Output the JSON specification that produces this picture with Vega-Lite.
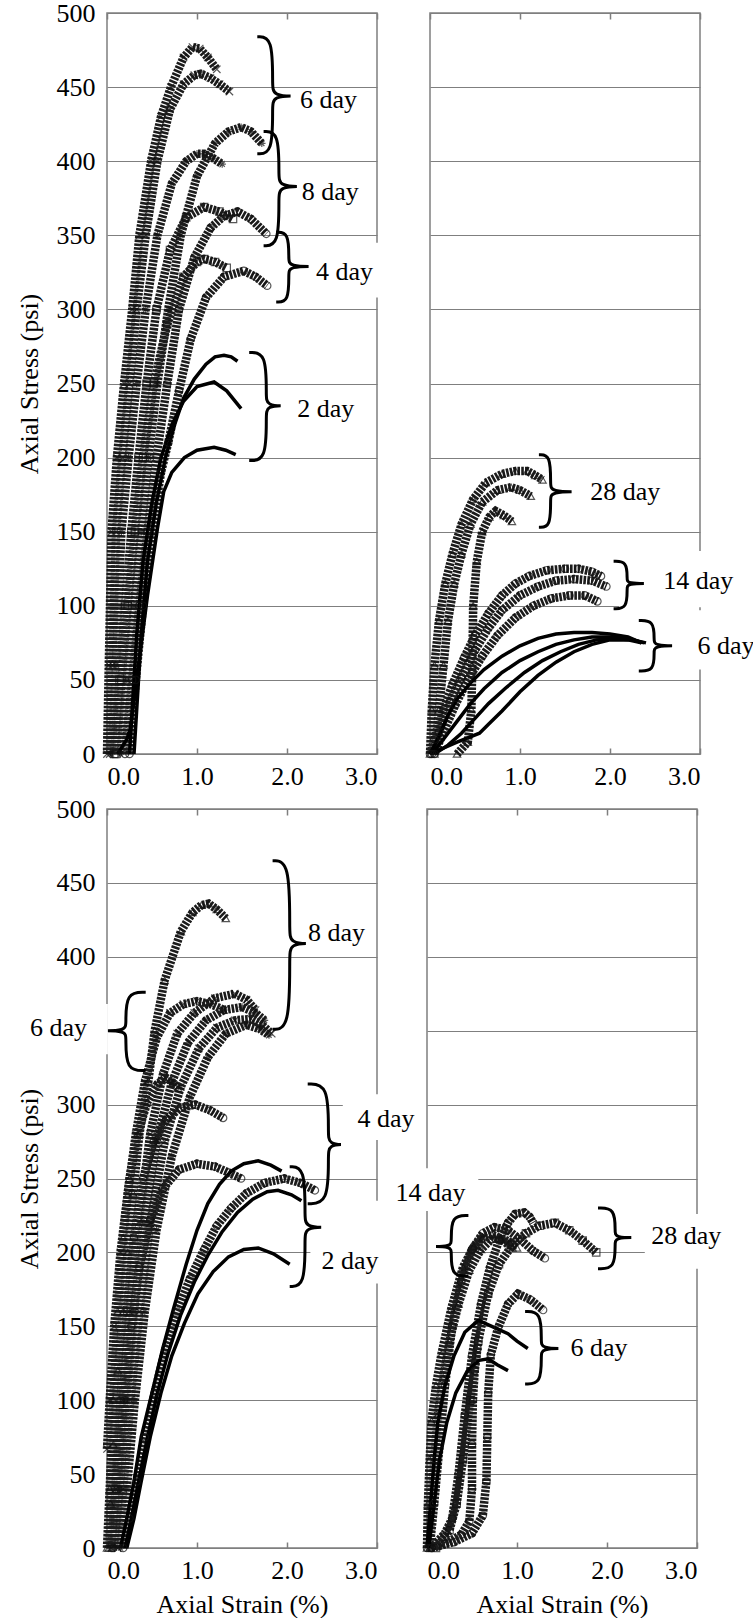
{
"$schema": "https://vega.github.io/schema/vega-lite/v6.json",
"padding": {"left": 15, "top": -1, "right": 0, "bottom": 0},
"background": "white",
"config": {
  "view": {"stroke": "#7f7f7f", "strokeWidth": 1.5},
  "font": "Liberation Serif",
  "style": {"guide-label": {"font": "Liberation Serif"}, "guide-title": {"font": "Liberation Serif"}},
  "text": {"font": "Liberation Serif"},
  "axis": {"labelFont": "Liberation Serif", "labelFontSize": 26, "labelColor": "#000", "titleFont": "Liberation Serif", "titleFontSize": 26, "titleFontWeight": "normal", "titleColor": "#000", "gridColor": "#7f7f7f", "gridWidth": 1.2, "tickColor": "#7f7f7f", "tickWidth": 1.5, "domain": false},
  "axisX": {"grid": false},
  "axisY": {"grid": true, "ticks": false}
},
"datasets": {
"boxes": [
 {"p":"TL","x":2.3,"x2":3.06,"y":308,"y2":345},
 {"p":"TR","x":2.1,"x2":3.42,"y":99,"y2":137},
 {"p":"TR","x":2.65,"x2":3.65,"y":57,"y2":97},
 {"p":"BL","x":-0.95,"x2":0.01,"y":334,"y2":368},
 {"p":"BL","x":2.62,"x2":3.45,"y":276,"y2":307},
 {"p":"BL","x":2.26,"x2":3.3,"y":179,"y2":235},
 {"p":"BR","x":-0.42,"x2":0.57,"y":228,"y2":257},
 {"p":"BR","x":2.42,"x2":3.5,"y":189,"y2":226}
],
"labels": [
 {"p":"TL","t":"6 day","x":2.46,"y":441},
 {"p":"TL","t":"8 day","x":2.48,"y":379},
 {"p":"TL","t":"4 day","x":2.64,"y":325},
 {"p":"TL","t":"2 day","x":2.43,"y":233},
 {"p":"TR","t":"28 day","x":2.17,"y":177},
 {"p":"TR","t":"14 day","x":2.98,"y":117},
 {"p":"TR","t":"6 day","x":3.29,"y":73},
 {"p":"BL","t":"8 day","x":2.55,"y":416},
 {"p":"BL","t":"6 day","x":-0.54,"y":352},
 {"p":"BL","t":"4 day","x":3.1,"y":290},
 {"p":"BL","t":"2 day","x":2.7,"y":194},
 {"p":"BR","t":"14 day","x":0.04,"y":240},
 {"p":"BR","t":"28 day","x":2.88,"y":211},
 {"p":"BR","t":"6 day","x":1.91,"y":135}
],
"braces": [
 {"p":"TL","b":"t6","x":1.67,"y":484},{"p":"TL","b":"t6","x":1.84,"y":484},{"p":"TL","b":"t6","x":1.84,"y":452},{"p":"TL","b":"t6","x":1.84,"y":444},{"p":"TL","b":"t6","x":2.14,"y":444},{"p":"TL","b":"t6","x":1.84,"y":444},{"p":"TL","b":"t6","x":1.84,"y":436},{"p":"TL","b":"t6","x":1.84,"y":405},{"p":"TL","b":"t6","x":1.67,"y":405},
 {"p":"TL","b":"t8","x":1.74,"y":420},{"p":"TL","b":"t8","x":1.91,"y":420},{"p":"TL","b":"t8","x":1.91,"y":391},{"p":"TL","b":"t8","x":1.91,"y":383},{"p":"TL","b":"t8","x":2.21,"y":383},{"p":"TL","b":"t8","x":1.91,"y":383},{"p":"TL","b":"t8","x":1.91,"y":375},{"p":"TL","b":"t8","x":1.91,"y":343},{"p":"TL","b":"t8","x":1.74,"y":343},
 {"p":"TL","b":"t4","x":1.88,"y":352},{"p":"TL","b":"t4","x":2.02,"y":352},{"p":"TL","b":"t4","x":2.02,"y":334},{"p":"TL","b":"t4","x":2.02,"y":329},{"p":"TL","b":"t4","x":2.35,"y":329},{"p":"TL","b":"t4","x":2.02,"y":329},{"p":"TL","b":"t4","x":2.02,"y":324},{"p":"TL","b":"t4","x":2.02,"y":305},{"p":"TL","b":"t4","x":1.88,"y":305},
 {"p":"TL","b":"t2","x":1.58,"y":271},{"p":"TL","b":"t2","x":1.77,"y":271},{"p":"TL","b":"t2","x":1.77,"y":242},{"p":"TL","b":"t2","x":1.77,"y":235},{"p":"TL","b":"t2","x":2.01,"y":235},{"p":"TL","b":"t2","x":1.77,"y":235},{"p":"TL","b":"t2","x":1.77,"y":228},{"p":"TL","b":"t2","x":1.77,"y":198},{"p":"TL","b":"t2","x":1.58,"y":198},
 {"p":"TR","b":"r28","x":1.21,"y":202},{"p":"TR","b":"r28","x":1.34,"y":202},{"p":"TR","b":"r28","x":1.34,"y":182},{"p":"TR","b":"r28","x":1.34,"y":177},{"p":"TR","b":"r28","x":1.69,"y":177},{"p":"TR","b":"r28","x":1.34,"y":177},{"p":"TR","b":"r28","x":1.34,"y":172},{"p":"TR","b":"r28","x":1.34,"y":153},{"p":"TR","b":"r28","x":1.21,"y":153},
 {"p":"TR","b":"r14","x":2.04,"y":130},{"p":"TR","b":"r14","x":2.19,"y":130},{"p":"TR","b":"r14","x":2.19,"y":118},{"p":"TR","b":"r14","x":2.19,"y":115},{"p":"TR","b":"r14","x":2.47,"y":115},{"p":"TR","b":"r14","x":2.19,"y":115},{"p":"TR","b":"r14","x":2.19,"y":112},{"p":"TR","b":"r14","x":2.19,"y":98},{"p":"TR","b":"r14","x":2.04,"y":98},
 {"p":"TR","b":"r6","x":2.32,"y":90},{"p":"TR","b":"r6","x":2.49,"y":90},{"p":"TR","b":"r6","x":2.49,"y":77},{"p":"TR","b":"r6","x":2.49,"y":73},{"p":"TR","b":"r6","x":2.79,"y":73},{"p":"TR","b":"r6","x":2.49,"y":73},{"p":"TR","b":"r6","x":2.49,"y":69},{"p":"TR","b":"r6","x":2.49,"y":56},{"p":"TR","b":"r6","x":2.32,"y":56},
 {"p":"BL","b":"l8","x":1.84,"y":465},{"p":"BL","b":"l8","x":2.03,"y":465},{"p":"BL","b":"l8","x":2.03,"y":418},{"p":"BL","b":"l8","x":2.03,"y":409},{"p":"BL","b":"l8","x":2.3,"y":409},{"p":"BL","b":"l8","x":2.03,"y":409},{"p":"BL","b":"l8","x":2.03,"y":400},{"p":"BL","b":"l8","x":2.03,"y":351},{"p":"BL","b":"l8","x":1.84,"y":351},
 {"p":"BL","b":"l6","x":0.43,"y":376},{"p":"BL","b":"l6","x":0.21,"y":376},{"p":"BL","b":"l6","x":0.21,"y":355},{"p":"BL","b":"l6","x":0.21,"y":350},{"p":"BL","b":"l6","x":-0.09,"y":350},{"p":"BL","b":"l6","x":0.21,"y":350},{"p":"BL","b":"l6","x":0.21,"y":345},{"p":"BL","b":"l6","x":0.21,"y":323},{"p":"BL","b":"l6","x":0.43,"y":323},
 {"p":"BL","b":"l4","x":2.23,"y":314},{"p":"BL","b":"l4","x":2.46,"y":314},{"p":"BL","b":"l4","x":2.46,"y":281},{"p":"BL","b":"l4","x":2.46,"y":273},{"p":"BL","b":"l4","x":2.67,"y":273},{"p":"BL","b":"l4","x":2.46,"y":273},{"p":"BL","b":"l4","x":2.46,"y":265},{"p":"BL","b":"l4","x":2.46,"y":233},{"p":"BL","b":"l4","x":2.23,"y":233},
 {"p":"BL","b":"l2","x":2.03,"y":258},{"p":"BL","b":"l2","x":2.2,"y":258},{"p":"BL","b":"l2","x":2.2,"y":225},{"p":"BL","b":"l2","x":2.2,"y":217},{"p":"BL","b":"l2","x":2.47,"y":217},{"p":"BL","b":"l2","x":2.2,"y":217},{"p":"BL","b":"l2","x":2.2,"y":209},{"p":"BL","b":"l2","x":2.2,"y":177},{"p":"BL","b":"l2","x":2.03,"y":177},
 {"p":"BR","b":"b14","x":0.46,"y":225},{"p":"BR","b":"b14","x":0.27,"y":225},{"p":"BR","b":"b14","x":0.27,"y":208},{"p":"BR","b":"b14","x":0.27,"y":204},{"p":"BR","b":"b14","x":0.015,"y":204},{"p":"BR","b":"b14","x":0.27,"y":204},{"p":"BR","b":"b14","x":0.27,"y":200},{"p":"BR","b":"b14","x":0.27,"y":184},{"p":"BR","b":"b14","x":0.46,"y":184},
 {"p":"BR","b":"b28","x":1.9,"y":230},{"p":"BR","b":"b28","x":2.09,"y":230},{"p":"BR","b":"b28","x":2.09,"y":214},{"p":"BR","b":"b28","x":2.09,"y":210},{"p":"BR","b":"b28","x":2.36,"y":210},{"p":"BR","b":"b28","x":2.09,"y":210},{"p":"BR","b":"b28","x":2.09,"y":206},{"p":"BR","b":"b28","x":2.09,"y":189},{"p":"BR","b":"b28","x":1.9,"y":189},
 {"p":"BR","b":"b6","x":1.09,"y":160},{"p":"BR","b":"b6","x":1.27,"y":160},{"p":"BR","b":"b6","x":1.27,"y":140},{"p":"BR","b":"b6","x":1.27,"y":135},{"p":"BR","b":"b6","x":1.555,"y":135},{"p":"BR","b":"b6","x":1.27,"y":135},{"p":"BR","b":"b6","x":1.27,"y":130},{"p":"BR","b":"b6","x":1.27,"y":111},{"p":"BR","b":"b6","x":1.09,"y":111}
],
"curves": [
 {"p":"TL","c":"a1","g":"A","x":0,"y":0},{"p":"TL","c":"a1","g":"A","x":0.02,"y":60},{"p":"TL","c":"a1","g":"A","x":0.05,"y":150},{"p":"TL","c":"a1","g":"A","x":0.11,"y":200},{"p":"TL","c":"a1","g":"A","x":0.19,"y":250},{"p":"TL","c":"a1","g":"A","x":0.28,"y":300},{"p":"TL","c":"a1","g":"A","x":0.36,"y":350},{"p":"TL","c":"a1","g":"A","x":0.49,"y":400},{"p":"TL","c":"a1","g":"A","x":0.6,"y":430},{"p":"TL","c":"a1","g":"A","x":0.71,"y":450},{"p":"TL","c":"a1","g":"A","x":0.85,"y":470},{"p":"TL","c":"a1","g":"A","x":0.95,"y":477},{"p":"TL","c":"a1","g":"A","x":1.03,"y":476},{"p":"TL","c":"a1","g":"A","x":1.12,"y":470},{"p":"TL","c":"a1","g":"A","x":1.22,"y":462},
 {"p":"TL","c":"a2","g":"A","x":0.03,"y":0},{"p":"TL","c":"a2","g":"A","x":0.06,"y":60},{"p":"TL","c":"a2","g":"A","x":0.1,"y":150},{"p":"TL","c":"a2","g":"A","x":0.17,"y":200},{"p":"TL","c":"a2","g":"A","x":0.25,"y":250},{"p":"TL","c":"a2","g":"A","x":0.33,"y":300},{"p":"TL","c":"a2","g":"A","x":0.43,"y":350},{"p":"TL","c":"a2","g":"A","x":0.56,"y":400},{"p":"TL","c":"a2","g":"A","x":0.7,"y":435},{"p":"TL","c":"a2","g":"A","x":0.85,"y":452},{"p":"TL","c":"a2","g":"A","x":0.97,"y":458},{"p":"TL","c":"a2","g":"A","x":1.04,"y":459},{"p":"TL","c":"a2","g":"A","x":1.15,"y":456},{"p":"TL","c":"a2","g":"A","x":1.25,"y":452},{"p":"TL","c":"a2","g":"A","x":1.36,"y":447},
 {"p":"TL","c":"b1","g":"B","x":0.05,"y":0},{"p":"TL","c":"b1","g":"B","x":0.1,"y":60},{"p":"TL","c":"b1","g":"B","x":0.16,"y":150},{"p":"TL","c":"b1","g":"B","x":0.24,"y":200},{"p":"TL","c":"b1","g":"B","x":0.33,"y":250},{"p":"TL","c":"b1","g":"B","x":0.43,"y":300},{"p":"TL","c":"b1","g":"B","x":0.56,"y":350},{"p":"TL","c":"b1","g":"B","x":0.72,"y":385},{"p":"TL","c":"b1","g":"B","x":0.88,"y":400},{"p":"TL","c":"b1","g":"B","x":1.0,"y":405},{"p":"TL","c":"b1","g":"B","x":1.08,"y":405},{"p":"TL","c":"b1","g":"B","x":1.18,"y":402},{"p":"TL","c":"b1","g":"B","x":1.28,"y":398},
 {"p":"TL","c":"b2","g":"B","x":0.15,"y":0},{"p":"TL","c":"b2","g":"B","x":0.22,"y":50},{"p":"TL","c":"b2","g":"B","x":0.3,"y":100},{"p":"TL","c":"b2","g":"B","x":0.38,"y":150},{"p":"TL","c":"b2","g":"B","x":0.46,"y":200},{"p":"TL","c":"b2","g":"B","x":0.56,"y":250},{"p":"TL","c":"b2","g":"B","x":0.68,"y":300},{"p":"TL","c":"b2","g":"B","x":0.82,"y":350},{"p":"TL","c":"b2","g":"B","x":1.0,"y":390},{"p":"TL","c":"b2","g":"B","x":1.2,"y":412},{"p":"TL","c":"b2","g":"B","x":1.35,"y":420},{"p":"TL","c":"b2","g":"B","x":1.49,"y":423},{"p":"TL","c":"b2","g":"B","x":1.6,"y":420},{"p":"TL","c":"b2","g":"B","x":1.72,"y":412},
 {"p":"TL","c":"c1","g":"C","x":0.08,"y":0},{"p":"TL","c":"c1","g":"C","x":0.14,"y":50},{"p":"TL","c":"c1","g":"C","x":0.2,"y":100},{"p":"TL","c":"c1","g":"C","x":0.27,"y":150},{"p":"TL","c":"c1","g":"C","x":0.35,"y":200},{"p":"TL","c":"c1","g":"C","x":0.44,"y":250},{"p":"TL","c":"c1","g":"C","x":0.55,"y":300},{"p":"TL","c":"c1","g":"C","x":0.7,"y":340},{"p":"TL","c":"c1","g":"C","x":0.88,"y":362},{"p":"TL","c":"c1","g":"C","x":1.08,"y":369},{"p":"TL","c":"c1","g":"C","x":1.25,"y":366},{"p":"TL","c":"c1","g":"C","x":1.4,"y":361},
 {"p":"TL","c":"d1","g":"D","x":0.2,"y":0},{"p":"TL","c":"d1","g":"D","x":0.28,"y":50},{"p":"TL","c":"d1","g":"D","x":0.36,"y":100},{"p":"TL","c":"d1","g":"D","x":0.45,"y":150},{"p":"TL","c":"d1","g":"D","x":0.55,"y":200},{"p":"TL","c":"d1","g":"D","x":0.67,"y":250},{"p":"TL","c":"d1","g":"D","x":0.8,"y":300},{"p":"TL","c":"d1","g":"D","x":0.97,"y":335},{"p":"TL","c":"d1","g":"D","x":1.15,"y":355},{"p":"TL","c":"d1","g":"D","x":1.3,"y":363},{"p":"TL","c":"d1","g":"D","x":1.45,"y":366},{"p":"TL","c":"d1","g":"D","x":1.6,"y":361},{"p":"TL","c":"d1","g":"D","x":1.77,"y":351},
 {"p":"TL","c":"c2","g":"C","x":0.1,"y":0},{"p":"TL","c":"c2","g":"C","x":0.16,"y":50},{"p":"TL","c":"c2","g":"C","x":0.23,"y":100},{"p":"TL","c":"c2","g":"C","x":0.31,"y":150},{"p":"TL","c":"c2","g":"C","x":0.4,"y":200},{"p":"TL","c":"c2","g":"C","x":0.52,"y":250},{"p":"TL","c":"c2","g":"C","x":0.67,"y":290},{"p":"TL","c":"c2","g":"C","x":0.85,"y":322},{"p":"TL","c":"c2","g":"C","x":1.0,"y":332},{"p":"TL","c":"c2","g":"C","x":1.08,"y":334},{"p":"TL","c":"c2","g":"C","x":1.2,"y":332},{"p":"TL","c":"c2","g":"C","x":1.33,"y":328},
 {"p":"TL","c":"d2","g":"D","x":0.25,"y":0},{"p":"TL","c":"d2","g":"D","x":0.32,"y":50},{"p":"TL","c":"d2","g":"D","x":0.4,"y":100},{"p":"TL","c":"d2","g":"D","x":0.5,"y":150},{"p":"TL","c":"d2","g":"D","x":0.6,"y":190},{"p":"TL","c":"d2","g":"D","x":0.68,"y":210},{"p":"TL","c":"d2","g":"D","x":0.8,"y":245},{"p":"TL","c":"d2","g":"D","x":0.93,"y":280},{"p":"TL","c":"d2","g":"D","x":1.1,"y":308},{"p":"TL","c":"d2","g":"D","x":1.3,"y":322},{"p":"TL","c":"d2","g":"D","x":1.52,"y":326},{"p":"TL","c":"d2","g":"D","x":1.65,"y":322},{"p":"TL","c":"d2","g":"D","x":1.78,"y":316},
 {"p":"TL","c":"f1","g":"F","x":0.3,"y":0},{"p":"TL","c":"f1","g":"F","x":0.33,"y":30},{"p":"TL","c":"f1","g":"F","x":0.38,"y":80},{"p":"TL","c":"f1","g":"F","x":0.45,"y":130},{"p":"TL","c":"f1","g":"F","x":0.55,"y":170},{"p":"TL","c":"f1","g":"F","x":0.65,"y":200},{"p":"TL","c":"f1","g":"F","x":0.75,"y":222},{"p":"TL","c":"f1","g":"F","x":0.85,"y":240},{"p":"TL","c":"f1","g":"F","x":0.97,"y":253},{"p":"TL","c":"f1","g":"F","x":1.1,"y":263},{"p":"TL","c":"f1","g":"F","x":1.2,"y":268},{"p":"TL","c":"f1","g":"F","x":1.3,"y":269},{"p":"TL","c":"f1","g":"F","x":1.38,"y":268},{"p":"TL","c":"f1","g":"F","x":1.45,"y":265},
 {"p":"TL","c":"f2","g":"F","x":0.25,"y":0},{"p":"TL","c":"f2","g":"F","x":0.28,"y":30},{"p":"TL","c":"f2","g":"F","x":0.33,"y":80},{"p":"TL","c":"f2","g":"F","x":0.4,"y":130},{"p":"TL","c":"f2","g":"F","x":0.5,"y":170},{"p":"TL","c":"f2","g":"F","x":0.6,"y":200},{"p":"TL","c":"f2","g":"F","x":0.72,"y":222},{"p":"TL","c":"f2","g":"F","x":0.85,"y":238},{"p":"TL","c":"f2","g":"F","x":1.0,"y":248},{"p":"TL","c":"f2","g":"F","x":1.19,"y":251},{"p":"TL","c":"f2","g":"F","x":1.33,"y":245},{"p":"TL","c":"f2","g":"F","x":1.49,"y":233},
 {"p":"TL","c":"f3","g":"F","x":0.12,"y":0},{"p":"TL","c":"f3","g":"F","x":0.22,"y":10},{"p":"TL","c":"f3","g":"F","x":0.26,"y":17},{"p":"TL","c":"f3","g":"F","x":0.33,"y":51},{"p":"TL","c":"f3","g":"F","x":0.45,"y":107},{"p":"TL","c":"f3","g":"F","x":0.56,"y":152},{"p":"TL","c":"f3","g":"F","x":0.63,"y":177},{"p":"TL","c":"f3","g":"F","x":0.72,"y":190},{"p":"TL","c":"f3","g":"F","x":0.86,"y":200},{"p":"TL","c":"f3","g":"F","x":1.0,"y":205},{"p":"TL","c":"f3","g":"F","x":1.19,"y":207},{"p":"TL","c":"f3","g":"F","x":1.32,"y":205},{"p":"TL","c":"f3","g":"F","x":1.43,"y":202},
 {"p":"TR","c":"e1","g":"E","x":0,"y":0},{"p":"TR","c":"e1","g":"E","x":0.02,"y":30},{"p":"TR","c":"e1","g":"E","x":0.05,"y":60},{"p":"TR","c":"e1","g":"E","x":0.1,"y":90},{"p":"TR","c":"e1","g":"E","x":0.17,"y":115},{"p":"TR","c":"e1","g":"E","x":0.25,"y":135},{"p":"TR","c":"e1","g":"E","x":0.35,"y":155},{"p":"TR","c":"e1","g":"E","x":0.48,"y":172},{"p":"TR","c":"e1","g":"E","x":0.62,"y":183},{"p":"TR","c":"e1","g":"E","x":0.8,"y":189},{"p":"TR","c":"e1","g":"E","x":0.95,"y":191},{"p":"TR","c":"e1","g":"E","x":1.08,"y":191},{"p":"TR","c":"e1","g":"E","x":1.17,"y":188},{"p":"TR","c":"e1","g":"E","x":1.25,"y":185},
 {"p":"TR","c":"e2","g":"E","x":0.05,"y":0},{"p":"TR","c":"e2","g":"E","x":0.1,"y":30},{"p":"TR","c":"e2","g":"E","x":0.15,"y":60},{"p":"TR","c":"e2","g":"E","x":0.2,"y":90},{"p":"TR","c":"e2","g":"E","x":0.27,"y":115},{"p":"TR","c":"e2","g":"E","x":0.35,"y":135},{"p":"TR","c":"e2","g":"E","x":0.45,"y":155},{"p":"TR","c":"e2","g":"E","x":0.58,"y":170},{"p":"TR","c":"e2","g":"E","x":0.75,"y":178},{"p":"TR","c":"e2","g":"E","x":0.9,"y":180},{"p":"TR","c":"e2","g":"E","x":1.0,"y":178},{"p":"TR","c":"e2","g":"E","x":1.12,"y":174},
 {"p":"TR","c":"e3","g":"E","x":0.3,"y":0},{"p":"TR","c":"e3","g":"E","x":0.42,"y":8},{"p":"TR","c":"e3","g":"E","x":0.46,"y":30},{"p":"TR","c":"e3","g":"E","x":0.47,"y":60},{"p":"TR","c":"e3","g":"E","x":0.48,"y":100},{"p":"TR","c":"e3","g":"E","x":0.52,"y":130},{"p":"TR","c":"e3","g":"E","x":0.58,"y":150},{"p":"TR","c":"e3","g":"E","x":0.66,"y":160},{"p":"TR","c":"e3","g":"E","x":0.73,"y":164},{"p":"TR","c":"e3","g":"E","x":0.82,"y":161},{"p":"TR","c":"e3","g":"E","x":0.91,"y":157},
 {"p":"TR","c":"d3","g":"D","x":0,"y":0},{"p":"TR","c":"d3","g":"D","x":0.05,"y":10},{"p":"TR","c":"d3","g":"D","x":0.15,"y":30},{"p":"TR","c":"d3","g":"D","x":0.25,"y":47},{"p":"TR","c":"d3","g":"D","x":0.38,"y":65},{"p":"TR","c":"d3","g":"D","x":0.5,"y":80},{"p":"TR","c":"d3","g":"D","x":0.65,"y":95},{"p":"TR","c":"d3","g":"D","x":0.8,"y":107},{"p":"TR","c":"d3","g":"D","x":0.95,"y":115},{"p":"TR","c":"d3","g":"D","x":1.1,"y":120},{"p":"TR","c":"d3","g":"D","x":1.3,"y":124},{"p":"TR","c":"d3","g":"D","x":1.5,"y":125},{"p":"TR","c":"d3","g":"D","x":1.65,"y":125},{"p":"TR","c":"d3","g":"D","x":1.8,"y":123},{"p":"TR","c":"d3","g":"D","x":1.9,"y":120},
 {"p":"TR","c":"d4","g":"D","x":0.02,"y":0},{"p":"TR","c":"d4","g":"D","x":0.1,"y":15},{"p":"TR","c":"d4","g":"D","x":0.22,"y":35},{"p":"TR","c":"d4","g":"D","x":0.35,"y":52},{"p":"TR","c":"d4","g":"D","x":0.5,"y":70},{"p":"TR","c":"d4","g":"D","x":0.65,"y":85},{"p":"TR","c":"d4","g":"D","x":0.8,"y":97},{"p":"TR","c":"d4","g":"D","x":1.0,"y":107},{"p":"TR","c":"d4","g":"D","x":1.2,"y":113},{"p":"TR","c":"d4","g":"D","x":1.4,"y":117},{"p":"TR","c":"d4","g":"D","x":1.6,"y":118},{"p":"TR","c":"d4","g":"D","x":1.8,"y":117},{"p":"TR","c":"d4","g":"D","x":1.96,"y":113},
 {"p":"TR","c":"d5","g":"D","x":0.05,"y":0},{"p":"TR","c":"d5","g":"D","x":0.15,"y":15},{"p":"TR","c":"d5","g":"D","x":0.28,"y":33},{"p":"TR","c":"d5","g":"D","x":0.42,"y":50},{"p":"TR","c":"d5","g":"D","x":0.58,"y":66},{"p":"TR","c":"d5","g":"D","x":0.75,"y":80},{"p":"TR","c":"d5","g":"D","x":0.95,"y":92},{"p":"TR","c":"d5","g":"D","x":1.15,"y":100},{"p":"TR","c":"d5","g":"D","x":1.35,"y":105},{"p":"TR","c":"d5","g":"D","x":1.55,"y":107},{"p":"TR","c":"d5","g":"D","x":1.72,"y":107},{"p":"TR","c":"d5","g":"D","x":1.86,"y":103},
 {"p":"TR","c":"f4","g":"F","x":0,"y":0},{"p":"TR","c":"f4","g":"F","x":0.1,"y":12},{"p":"TR","c":"f4","g":"F","x":0.2,"y":26},{"p":"TR","c":"f4","g":"F","x":0.3,"y":37},{"p":"TR","c":"f4","g":"F","x":0.45,"y":48},{"p":"TR","c":"f4","g":"F","x":0.6,"y":57},{"p":"TR","c":"f4","g":"F","x":0.8,"y":66},{"p":"TR","c":"f4","g":"F","x":1.0,"y":73},{"p":"TR","c":"f4","g":"F","x":1.2,"y":78},{"p":"TR","c":"f4","g":"F","x":1.4,"y":81},{"p":"TR","c":"f4","g":"F","x":1.6,"y":82},{"p":"TR","c":"f4","g":"F","x":1.8,"y":82},{"p":"TR","c":"f4","g":"F","x":2.0,"y":81},{"p":"TR","c":"f4","g":"F","x":2.2,"y":79},{"p":"TR","c":"f4","g":"F","x":2.35,"y":75},
 {"p":"TR","c":"f5","g":"F","x":0.02,"y":0},{"p":"TR","c":"f5","g":"F","x":0.15,"y":10},{"p":"TR","c":"f5","g":"F","x":0.3,"y":22},{"p":"TR","c":"f5","g":"F","x":0.45,"y":34},{"p":"TR","c":"f5","g":"F","x":0.6,"y":44},{"p":"TR","c":"f5","g":"F","x":0.8,"y":55},{"p":"TR","c":"f5","g":"F","x":1.0,"y":63},{"p":"TR","c":"f5","g":"F","x":1.2,"y":69},{"p":"TR","c":"f5","g":"F","x":1.4,"y":74},{"p":"TR","c":"f5","g":"F","x":1.6,"y":77},{"p":"TR","c":"f5","g":"F","x":1.8,"y":79},{"p":"TR","c":"f5","g":"F","x":2.0,"y":79},{"p":"TR","c":"f5","g":"F","x":2.2,"y":78},{"p":"TR","c":"f5","g":"F","x":2.38,"y":75},
 {"p":"TR","c":"f6","g":"F","x":0.05,"y":0},{"p":"TR","c":"f6","g":"F","x":0.2,"y":6},{"p":"TR","c":"f6","g":"F","x":0.35,"y":14},{"p":"TR","c":"f6","g":"F","x":0.5,"y":24},{"p":"TR","c":"f6","g":"F","x":0.65,"y":34},{"p":"TR","c":"f6","g":"F","x":0.85,"y":45},{"p":"TR","c":"f6","g":"F","x":1.05,"y":55},{"p":"TR","c":"f6","g":"F","x":1.25,"y":63},{"p":"TR","c":"f6","g":"F","x":1.45,"y":69},{"p":"TR","c":"f6","g":"F","x":1.65,"y":74},{"p":"TR","c":"f6","g":"F","x":1.85,"y":77},{"p":"TR","c":"f6","g":"F","x":2.05,"y":78},{"p":"TR","c":"f6","g":"F","x":2.25,"y":77},{"p":"TR","c":"f6","g":"F","x":2.4,"y":75},
 {"p":"TR","c":"f7","g":"F","x":0,"y":0},{"p":"TR","c":"f7","g":"F","x":0.3,"y":8},{"p":"TR","c":"f7","g":"F","x":0.55,"y":14},{"p":"TR","c":"f7","g":"F","x":0.65,"y":20},{"p":"TR","c":"f7","g":"F","x":0.8,"y":29},{"p":"TR","c":"f7","g":"F","x":1.0,"y":42},{"p":"TR","c":"f7","g":"F","x":1.2,"y":53},{"p":"TR","c":"f7","g":"F","x":1.4,"y":62},{"p":"TR","c":"f7","g":"F","x":1.6,"y":69},{"p":"TR","c":"f7","g":"F","x":1.8,"y":74},{"p":"TR","c":"f7","g":"F","x":2.0,"y":77},{"p":"TR","c":"f7","g":"F","x":2.2,"y":77},{"p":"TR","c":"f7","g":"F","x":2.35,"y":75},
 {"p":"BL","c":"h1","g":"E","x":0.02,"y":0},{"p":"BL","c":"h1","g":"E","x":0.04,"y":30},{"p":"BL","c":"h1","g":"E","x":0.07,"y":70},{"p":"BL","c":"h1","g":"E","x":0.12,"y":120},{"p":"BL","c":"h1","g":"E","x":0.18,"y":160},{"p":"BL","c":"h1","g":"E","x":0.23,"y":200},{"p":"BL","c":"h1","g":"E","x":0.29,"y":240},{"p":"BL","c":"h1","g":"E","x":0.36,"y":280},{"p":"BL","c":"h1","g":"E","x":0.46,"y":316},{"p":"BL","c":"h1","g":"E","x":0.53,"y":350},{"p":"BL","c":"h1","g":"E","x":0.64,"y":384},{"p":"BL","c":"h1","g":"E","x":0.82,"y":417},{"p":"BL","c":"h1","g":"E","x":0.95,"y":430},{"p":"BL","c":"h1","g":"E","x":1.05,"y":435},{"p":"BL","c":"h1","g":"E","x":1.13,"y":436},{"p":"BL","c":"h1","g":"E","x":1.22,"y":432},{"p":"BL","c":"h1","g":"E","x":1.32,"y":426},
 {"p":"BL","c":"k0","g":"A","x":0,"y":67},{"p":"BL","c":"k0","g":"A","x":0.03,"y":100},{"p":"BL","c":"k0","g":"A","x":0.08,"y":150},{"p":"BL","c":"k0","g":"A","x":0.15,"y":200},{"p":"BL","c":"k0","g":"A","x":0.23,"y":240},{"p":"BL","c":"k0","g":"A","x":0.32,"y":280},{"p":"BL","c":"k0","g":"A","x":0.42,"y":315},{"p":"BL","c":"k0","g":"A","x":0.55,"y":345},{"p":"BL","c":"k0","g":"A","x":0.7,"y":362},{"p":"BL","c":"k0","g":"A","x":0.85,"y":368},{"p":"BL","c":"k0","g":"A","x":1.0,"y":370},{"p":"BL","c":"k0","g":"A","x":1.15,"y":368},{"p":"BL","c":"k0","g":"A","x":1.3,"y":364},
 {"p":"BL","c":"k1","g":"A","x":0.05,"y":0},{"p":"BL","c":"k1","g":"A","x":0.1,"y":40},{"p":"BL","c":"k1","g":"A","x":0.17,"y":100},{"p":"BL","c":"k1","g":"A","x":0.25,"y":160},{"p":"BL","c":"k1","g":"A","x":0.35,"y":220},{"p":"BL","c":"k1","g":"A","x":0.48,"y":280},{"p":"BL","c":"k1","g":"A","x":0.62,"y":320},{"p":"BL","c":"k1","g":"A","x":0.78,"y":348},{"p":"BL","c":"k1","g":"A","x":0.97,"y":362},{"p":"BL","c":"k1","g":"A","x":1.2,"y":372},{"p":"BL","c":"k1","g":"A","x":1.42,"y":375},{"p":"BL","c":"k1","g":"A","x":1.55,"y":371},{"p":"BL","c":"k1","g":"A","x":1.65,"y":364},
 {"p":"BL","c":"k2","g":"B","x":0.08,"y":0},{"p":"BL","c":"k2","g":"B","x":0.14,"y":40},{"p":"BL","c":"k2","g":"B","x":0.21,"y":100},{"p":"BL","c":"k2","g":"B","x":0.3,"y":160},{"p":"BL","c":"k2","g":"B","x":0.41,"y":220},{"p":"BL","c":"k2","g":"B","x":0.55,"y":275},{"p":"BL","c":"k2","g":"B","x":0.72,"y":315},{"p":"BL","c":"k2","g":"B","x":0.9,"y":342},{"p":"BL","c":"k2","g":"B","x":1.1,"y":357},{"p":"BL","c":"k2","g":"B","x":1.3,"y":364},{"p":"BL","c":"k2","g":"B","x":1.5,"y":366},{"p":"BL","c":"k2","g":"B","x":1.65,"y":362},{"p":"BL","c":"k2","g":"B","x":1.75,"y":357},
 {"p":"BL","c":"k3","g":"A","x":0.12,"y":0},{"p":"BL","c":"k3","g":"A","x":0.18,"y":40},{"p":"BL","c":"k3","g":"A","x":0.26,"y":100},{"p":"BL","c":"k3","g":"A","x":0.36,"y":160},{"p":"BL","c":"k3","g":"A","x":0.48,"y":220},{"p":"BL","c":"k3","g":"A","x":0.64,"y":275},{"p":"BL","c":"k3","g":"A","x":0.82,"y":312},{"p":"BL","c":"k3","g":"A","x":1.02,"y":338},{"p":"BL","c":"k3","g":"A","x":1.22,"y":352},{"p":"BL","c":"k3","g":"A","x":1.42,"y":357},{"p":"BL","c":"k3","g":"A","x":1.6,"y":358},{"p":"BL","c":"k3","g":"A","x":1.72,"y":354},{"p":"BL","c":"k3","g":"A","x":1.83,"y":348},
 {"p":"BL","c":"k4","g":"B","x":0.15,"y":0},{"p":"BL","c":"k4","g":"B","x":0.22,"y":40},{"p":"BL","c":"k4","g":"B","x":0.31,"y":100},{"p":"BL","c":"k4","g":"B","x":0.42,"y":160},{"p":"BL","c":"k4","g":"B","x":0.55,"y":215},{"p":"BL","c":"k4","g":"B","x":0.72,"y":265},{"p":"BL","c":"k4","g":"B","x":0.92,"y":305},{"p":"BL","c":"k4","g":"B","x":1.12,"y":332},{"p":"BL","c":"k4","g":"B","x":1.32,"y":348},{"p":"BL","c":"k4","g":"B","x":1.55,"y":354},{"p":"BL","c":"k4","g":"B","x":1.7,"y":351},{"p":"BL","c":"k4","g":"B","x":1.8,"y":347},
 {"p":"BL","c":"l1","g":"E","x":0,"y":0},{"p":"BL","c":"l1","g":"E","x":0.03,"y":40},{"p":"BL","c":"l1","g":"E","x":0.07,"y":100},{"p":"BL","c":"l1","g":"E","x":0.12,"y":160},{"p":"BL","c":"l1","g":"E","x":0.18,"y":210},{"p":"BL","c":"l1","g":"E","x":0.25,"y":250},{"p":"BL","c":"l1","g":"E","x":0.34,"y":280},{"p":"BL","c":"l1","g":"E","x":0.45,"y":302},{"p":"BL","c":"l1","g":"E","x":0.56,"y":314},{"p":"BL","c":"l1","g":"E","x":0.66,"y":318},{"p":"BL","c":"l1","g":"E","x":0.73,"y":315},{"p":"BL","c":"l1","g":"E","x":0.79,"y":311},
 {"p":"BL","c":"l2","g":"D","x":0.05,"y":0},{"p":"BL","c":"l2","g":"D","x":0.09,"y":40},{"p":"BL","c":"l2","g":"D","x":0.15,"y":100},{"p":"BL","c":"l2","g":"D","x":0.22,"y":160},{"p":"BL","c":"l2","g":"D","x":0.3,"y":210},{"p":"BL","c":"l2","g":"D","x":0.4,"y":250},{"p":"BL","c":"l2","g":"D","x":0.52,"y":275},{"p":"BL","c":"l2","g":"D","x":0.66,"y":290},{"p":"BL","c":"l2","g":"D","x":0.82,"y":298},{"p":"BL","c":"l2","g":"D","x":0.98,"y":300},{"p":"BL","c":"l2","g":"D","x":1.15,"y":296},{"p":"BL","c":"l2","g":"D","x":1.29,"y":291},
 {"p":"BL","c":"l3","g":"D","x":0.07,"y":0},{"p":"BL","c":"l3","g":"D","x":0.12,"y":40},{"p":"BL","c":"l3","g":"D","x":0.19,"y":100},{"p":"BL","c":"l3","g":"D","x":0.27,"y":150},{"p":"BL","c":"l3","g":"D","x":0.36,"y":190},{"p":"BL","c":"l3","g":"D","x":0.48,"y":222},{"p":"BL","c":"l3","g":"D","x":0.62,"y":243},{"p":"BL","c":"l3","g":"D","x":0.8,"y":256},{"p":"BL","c":"l3","g":"D","x":1.0,"y":260},{"p":"BL","c":"l3","g":"D","x":1.2,"y":258},{"p":"BL","c":"l3","g":"D","x":1.35,"y":254},{"p":"BL","c":"l3","g":"D","x":1.49,"y":250},
 {"p":"BL","c":"m1","g":"F","x":0.15,"y":0},{"p":"BL","c":"m1","g":"F","x":0.22,"y":20},{"p":"BL","c":"m1","g":"F","x":0.3,"y":45},{"p":"BL","c":"m1","g":"F","x":0.38,"y":75},{"p":"BL","c":"m1","g":"F","x":0.5,"y":105},{"p":"BL","c":"m1","g":"F","x":0.62,"y":135},{"p":"BL","c":"m1","g":"F","x":0.74,"y":162},{"p":"BL","c":"m1","g":"F","x":0.88,"y":192},{"p":"BL","c":"m1","g":"F","x":1.0,"y":215},{"p":"BL","c":"m1","g":"F","x":1.12,"y":233},{"p":"BL","c":"m1","g":"F","x":1.25,"y":246},{"p":"BL","c":"m1","g":"F","x":1.38,"y":255},{"p":"BL","c":"m1","g":"F","x":1.52,"y":260},{"p":"BL","c":"m1","g":"F","x":1.68,"y":262},{"p":"BL","c":"m1","g":"F","x":1.82,"y":259},{"p":"BL","c":"m1","g":"F","x":1.94,"y":255},
 {"p":"BL","c":"n1","g":"D","x":0.18,"y":0},{"p":"BL","c":"n1","g":"D","x":0.25,"y":20},{"p":"BL","c":"n1","g":"D","x":0.33,"y":45},{"p":"BL","c":"n1","g":"D","x":0.42,"y":75},{"p":"BL","c":"n1","g":"D","x":0.53,"y":105},{"p":"BL","c":"n1","g":"D","x":0.65,"y":135},{"p":"BL","c":"n1","g":"D","x":0.78,"y":160},{"p":"BL","c":"n1","g":"D","x":0.92,"y":182},{"p":"BL","c":"n1","g":"D","x":1.08,"y":202},{"p":"BL","c":"n1","g":"D","x":1.22,"y":218},{"p":"BL","c":"n1","g":"D","x":1.38,"y":230},{"p":"BL","c":"n1","g":"D","x":1.55,"y":240},{"p":"BL","c":"n1","g":"D","x":1.75,"y":247},{"p":"BL","c":"n1","g":"D","x":1.97,"y":250},{"p":"BL","c":"n1","g":"D","x":2.15,"y":247},{"p":"BL","c":"n1","g":"D","x":2.31,"y":242},
 {"p":"BL","c":"m2","g":"F","x":0.2,"y":0},{"p":"BL","c":"m2","g":"F","x":0.27,"y":20},{"p":"BL","c":"m2","g":"F","x":0.35,"y":45},{"p":"BL","c":"m2","g":"F","x":0.45,"y":75},{"p":"BL","c":"m2","g":"F","x":0.56,"y":105},{"p":"BL","c":"m2","g":"F","x":0.68,"y":132},{"p":"BL","c":"m2","g":"F","x":0.82,"y":158},{"p":"BL","c":"m2","g":"F","x":0.97,"y":180},{"p":"BL","c":"m2","g":"F","x":1.12,"y":198},{"p":"BL","c":"m2","g":"F","x":1.28,"y":214},{"p":"BL","c":"m2","g":"F","x":1.45,"y":227},{"p":"BL","c":"m2","g":"F","x":1.62,"y":236},{"p":"BL","c":"m2","g":"F","x":1.78,"y":241},{"p":"BL","c":"m2","g":"F","x":1.9,"y":242},{"p":"BL","c":"m2","g":"F","x":2.05,"y":239},{"p":"BL","c":"m2","g":"F","x":2.16,"y":235},
 {"p":"BL","c":"m3","g":"F","x":0.22,"y":0},{"p":"BL","c":"m3","g":"F","x":0.3,"y":20},{"p":"BL","c":"m3","g":"F","x":0.38,"y":45},{"p":"BL","c":"m3","g":"F","x":0.48,"y":75},{"p":"BL","c":"m3","g":"F","x":0.6,"y":105},{"p":"BL","c":"m3","g":"F","x":0.72,"y":130},{"p":"BL","c":"m3","g":"F","x":0.86,"y":152},{"p":"BL","c":"m3","g":"F","x":1.01,"y":172},{"p":"BL","c":"m3","g":"F","x":1.18,"y":187},{"p":"BL","c":"m3","g":"F","x":1.35,"y":197},{"p":"BL","c":"m3","g":"F","x":1.52,"y":202},{"p":"BL","c":"m3","g":"F","x":1.68,"y":203},{"p":"BL","c":"m3","g":"F","x":1.85,"y":199},{"p":"BL","c":"m3","g":"F","x":2.03,"y":192},
 {"p":"BR","c":"s1","g":"E","x":0,"y":0},{"p":"BR","c":"s1","g":"E","x":0.01,"y":30},{"p":"BR","c":"s1","g":"E","x":0.03,"y":60},{"p":"BR","c":"s1","g":"E","x":0.05,"y":86},{"p":"BR","c":"s1","g":"E","x":0.1,"y":110},{"p":"BR","c":"s1","g":"E","x":0.16,"y":131},{"p":"BR","c":"s1","g":"E","x":0.27,"y":162},{"p":"BR","c":"s1","g":"E","x":0.4,"y":190},{"p":"BR","c":"s1","g":"E","x":0.52,"y":204},{"p":"BR","c":"s1","g":"E","x":0.62,"y":210},{"p":"BR","c":"s1","g":"E","x":0.72,"y":212},{"p":"BR","c":"s1","g":"E","x":0.82,"y":209},{"p":"BR","c":"s1","g":"E","x":0.95,"y":203},
 {"p":"BR","c":"s2","g":"E","x":0.03,"y":0},{"p":"BR","c":"s2","g":"E","x":0.05,"y":30},{"p":"BR","c":"s2","g":"E","x":0.08,"y":60},{"p":"BR","c":"s2","g":"E","x":0.12,"y":90},{"p":"BR","c":"s2","g":"E","x":0.18,"y":115},{"p":"BR","c":"s2","g":"E","x":0.25,"y":140},{"p":"BR","c":"s2","g":"E","x":0.35,"y":165},{"p":"BR","c":"s2","g":"E","x":0.47,"y":188},{"p":"BR","c":"s2","g":"E","x":0.6,"y":202},{"p":"BR","c":"s2","g":"E","x":0.72,"y":209},{"p":"BR","c":"s2","g":"E","x":0.82,"y":210},{"p":"BR","c":"s2","g":"E","x":0.92,"y":207},{"p":"BR","c":"s2","g":"E","x":1.0,"y":203},
 {"p":"BR","c":"p3","g":"D","x":0.03,"y":0},{"p":"BR","c":"p3","g":"D","x":0.08,"y":30},{"p":"BR","c":"p3","g":"D","x":0.14,"y":70},{"p":"BR","c":"p3","g":"D","x":0.2,"y":110},{"p":"BR","c":"p3","g":"D","x":0.28,"y":150},{"p":"BR","c":"p3","g":"D","x":0.38,"y":180},{"p":"BR","c":"p3","g":"D","x":0.5,"y":202},{"p":"BR","c":"p3","g":"D","x":0.62,"y":213},{"p":"BR","c":"p3","g":"D","x":0.75,"y":217},{"p":"BR","c":"p3","g":"D","x":0.9,"y":215},{"p":"BR","c":"p3","g":"D","x":1.05,"y":208},{"p":"BR","c":"p3","g":"D","x":1.18,"y":201},{"p":"BR","c":"p3","g":"D","x":1.31,"y":196},
 {"p":"BR","c":"p1","g":"D","x":0.05,"y":0},{"p":"BR","c":"p1","g":"D","x":0.2,"y":10},{"p":"BR","c":"p1","g":"D","x":0.28,"y":20},{"p":"BR","c":"p1","g":"D","x":0.35,"y":50},{"p":"BR","c":"p1","g":"D","x":0.42,"y":90},{"p":"BR","c":"p1","g":"D","x":0.5,"y":130},{"p":"BR","c":"p1","g":"D","x":0.6,"y":165},{"p":"BR","c":"p1","g":"D","x":0.7,"y":190},{"p":"BR","c":"p1","g":"D","x":0.8,"y":208},{"p":"BR","c":"p1","g":"D","x":0.9,"y":220},{"p":"BR","c":"p1","g":"D","x":0.98,"y":226},{"p":"BR","c":"p1","g":"D","x":1.08,"y":227},{"p":"BR","c":"p1","g":"D","x":1.14,"y":224},{"p":"BR","c":"p1","g":"D","x":1.18,"y":220},
 {"p":"BR","c":"p2","g":"C","x":0.1,"y":0},{"p":"BR","c":"p2","g":"C","x":0.25,"y":12},{"p":"BR","c":"p2","g":"C","x":0.33,"y":30},{"p":"BR","c":"p2","g":"C","x":0.4,"y":60},{"p":"BR","c":"p2","g":"C","x":0.48,"y":100},{"p":"BR","c":"p2","g":"C","x":0.57,"y":140},{"p":"BR","c":"p2","g":"C","x":0.68,"y":172},{"p":"BR","c":"p2","g":"C","x":0.8,"y":192},{"p":"BR","c":"p2","g":"C","x":0.95,"y":205},{"p":"BR","c":"p2","g":"C","x":1.1,"y":213},{"p":"BR","c":"p2","g":"C","x":1.25,"y":218},{"p":"BR","c":"p2","g":"C","x":1.42,"y":220},{"p":"BR","c":"p2","g":"C","x":1.58,"y":215},{"p":"BR","c":"p2","g":"C","x":1.73,"y":208},{"p":"BR","c":"p2","g":"C","x":1.88,"y":200},
 {"p":"BR","c":"q1","g":"D","x":0.05,"y":0},{"p":"BR","c":"q1","g":"D","x":0.3,"y":4},{"p":"BR","c":"q1","g":"D","x":0.5,"y":10},{"p":"BR","c":"q1","g":"D","x":0.62,"y":22},{"p":"BR","c":"q1","g":"D","x":0.66,"y":45},{"p":"BR","c":"q1","g":"D","x":0.67,"y":75},{"p":"BR","c":"q1","g":"D","x":0.68,"y":105},{"p":"BR","c":"q1","g":"D","x":0.71,"y":131},{"p":"BR","c":"q1","g":"D","x":0.79,"y":149},{"p":"BR","c":"q1","g":"D","x":0.9,"y":165},{"p":"BR","c":"q1","g":"D","x":1.01,"y":172},{"p":"BR","c":"q1","g":"D","x":1.15,"y":168},{"p":"BR","c":"q1","g":"D","x":1.29,"y":161},
 {"p":"BR","c":"r1","g":"D","x":0,"y":0},{"p":"BR","c":"r1","g":"D","x":0.2,"y":3},{"p":"BR","c":"r1","g":"D","x":0.38,"y":9},{"p":"BR","c":"r1","g":"D","x":0.47,"y":18},{"p":"BR","c":"r1","g":"D","x":0.5,"y":40},{"p":"BR","c":"r1","g":"D","x":0.5,"y":70},{"p":"BR","c":"r1","g":"D","x":0.51,"y":100},{"p":"BR","c":"r1","g":"D","x":0.53,"y":120},{"p":"BR","c":"r1","g":"D","x":0.56,"y":135},
 {"p":"BR","c":"q2","g":"F","x":0,"y":0},{"p":"BR","c":"q2","g":"F","x":0.04,"y":30},{"p":"BR","c":"q2","g":"F","x":0.08,"y":60},{"p":"BR","c":"q2","g":"F","x":0.12,"y":85},{"p":"BR","c":"q2","g":"F","x":0.2,"y":110},{"p":"BR","c":"q2","g":"F","x":0.3,"y":130},{"p":"BR","c":"q2","g":"F","x":0.42,"y":146},{"p":"BR","c":"q2","g":"F","x":0.57,"y":154},{"p":"BR","c":"q2","g":"F","x":0.72,"y":150},{"p":"BR","c":"q2","g":"F","x":0.9,"y":145},{"p":"BR","c":"q2","g":"F","x":1.0,"y":140},{"p":"BR","c":"q2","g":"F","x":1.12,"y":135},
 {"p":"BR","c":"q3","g":"F","x":0.02,"y":0},{"p":"BR","c":"q3","g":"F","x":0.08,"y":30},{"p":"BR","c":"q3","g":"F","x":0.14,"y":60},{"p":"BR","c":"q3","g":"F","x":0.22,"y":85},{"p":"BR","c":"q3","g":"F","x":0.32,"y":105},{"p":"BR","c":"q3","g":"F","x":0.45,"y":120},{"p":"BR","c":"q3","g":"F","x":0.58,"y":127},{"p":"BR","c":"q3","g":"F","x":0.68,"y":128},{"p":"BR","c":"q3","g":"F","x":0.78,"y":124},{"p":"BR","c":"q3","g":"F","x":0.9,"y":120}
]
},
"spacing": 5,
"vconcat": [
{
 "bounds": "flush",
 "spacing": 53,
 "hconcat": [
  {
   "width": 270, "height": 741,
   "resolve": {"axis": {"x": "independent", "y": "independent"}},
   "layer": [
    {"data": {"name": "boxes"}, "transform": [{"filter": "datum.p === 'TL'"}], "mark": {"type": "rect", "color": "white"},
     "encoding": {
      "x": {"field": "x", "type": "quantitative", "scale": {"domain": [0, 3], "nice": false, "zero": false}, "axis": {"values": [0, 1, 2, 3], "format": ".1f", "tickSize": -6, "labelPadding": 15, "labelFont": "Liberation Serif", "title": null}},
      "x2": {"field": "x2"},
      "y": {"field": "y", "type": "quantitative", "scale": {"domain": [0, 500], "nice": false, "zero": false}, "axis": {"values": [0,50,100,150,200,250,300,350,400,450,500], "labelPadding": 12, "labelFont": "Liberation Serif", "titleFont": "Liberation Serif", "title": "Axial Stress (psi)", "titlePadding": 14}},
      "y2": {"field": "y2"}}},
    {"data": {"name": "curves"}, "transform": [{"window": [{"op": "row_number", "as": "k"}]}, {"filter": "datum.p === 'TL' && datum.g !== 'F'"}], "mark": {"type": "line", "strokeWidth": 8.5, "color": "#1c1c1c", "strokeDash": [2.6, 1.2]},
     "encoding": {"x": {"field": "x", "type": "quantitative", "scale": {"domain": [0, 3], "nice": false, "zero": false}, "axis": null}, "y": {"field": "y", "type": "quantitative", "scale": {"domain": [0, 500], "nice": false, "zero": false}, "axis": null}, "detail": {"field": "c"}, "order": {"field": "k"}}},
    {"data": {"name": "curves"}, "transform": [{"window": [{"op": "row_number", "as": "k"}]}, {"filter": "datum.p === 'TL' && datum.g === 'F'"}], "mark": {"type": "line", "strokeWidth": 3.5, "color": "#000"},
     "encoding": {"x": {"field": "x", "type": "quantitative", "scale": {"domain": [0, 3], "nice": false, "zero": false}, "axis": null}, "y": {"field": "y", "type": "quantitative", "scale": {"domain": [0, 500], "nice": false, "zero": false}, "axis": null}, "detail": {"field": "c"}, "order": {"field": "k"}}},
    {"data": {"name": "curves"}, "transform": [{"filter": "datum.p === 'TL' && datum.g !== 'F'"}], "mark": {"type": "point", "filled": false, "size": 55, "strokeWidth": 1.2, "color": "#111"},
     "encoding": {"x": {"field": "x", "type": "quantitative", "scale": {"domain": [0, 3], "nice": false, "zero": false}, "axis": null}, "y": {"field": "y", "type": "quantitative", "scale": {"domain": [0, 500], "nice": false, "zero": false}, "axis": null},
      "shape": {"field": "g", "type": "nominal", "scale": {"domain": ["A","B","C","D","E"], "range": ["M-1,-1L1,1M-1,1L1,-1", "M-1,0L1,0M0,-1L0,1M-0.7,-0.7L0.7,0.7M-0.7,0.7L0.7,-0.7", "square", "circle", "triangle-up"]}, "legend": null}}},
    {"data": {"name": "braces"}, "transform": [{"window": [{"op": "row_number", "as": "k"}]}, {"filter": "datum.p === 'TL'"}], "mark": {"type": "line", "interpolate": "basis", "strokeWidth": 3, "color": "#000"},
     "encoding": {"x": {"field": "x", "type": "quantitative", "scale": {"domain": [0, 3], "nice": false, "zero": false}, "axis": null}, "y": {"field": "y", "type": "quantitative", "scale": {"domain": [0, 500], "nice": false, "zero": false}, "axis": null}, "detail": {"field": "b"}, "order": {"field": "k"}}},
    {"data": {"name": "labels"}, "transform": [{"filter": "datum.p === 'TL'"}], "mark": {"type": "text", "font": "Liberation Serif", "fontSize": 26, "align": "center", "baseline": "middle", "color": "#000"},
     "encoding": {"x": {"field": "x", "type": "quantitative", "scale": {"domain": [0, 3], "nice": false, "zero": false}, "axis": {"orient": "top", "values": [0, 1, 2, 3], "labels": false, "tickSize": -6, "title": null}}, "y": {"field": "y", "type": "quantitative", "scale": {"domain": [0, 500], "nice": false, "zero": false}, "axis": null}, "text": {"field": "t"}}}
   ]
  },
  {
   "width": 270, "height": 741,
   "resolve": {"axis": {"x": "independent", "y": "independent"}},
   "layer": [
    {"data": {"name": "boxes"}, "transform": [{"filter": "datum.p === 'TR'"}], "mark": {"type": "rect", "color": "white"},
     "encoding": {
      "x": {"field": "x", "type": "quantitative", "scale": {"domain": [0, 3], "nice": false, "zero": false}, "axis": {"values": [0, 1, 2, 3], "format": ".1f", "tickSize": -6, "labelPadding": 15, "labelFont": "Liberation Serif", "title": null}},
      "x2": {"field": "x2"},
      "y": {"field": "y", "type": "quantitative", "scale": {"domain": [0, 500], "nice": false, "zero": false}, "axis": {"values": [0,50,100,150,200,250,300,350,400,450,500], "labels": false, "title": null}},
      "y2": {"field": "y2"}}},
    {"data": {"name": "curves"}, "transform": [{"window": [{"op": "row_number", "as": "k"}]}, {"filter": "datum.p === 'TR' && datum.g !== 'F'"}], "mark": {"type": "line", "strokeWidth": 8.5, "color": "#1c1c1c", "strokeDash": [2.6, 1.2]},
     "encoding": {"x": {"field": "x", "type": "quantitative", "scale": {"domain": [0, 3], "nice": false, "zero": false}, "axis": null}, "y": {"field": "y", "type": "quantitative", "scale": {"domain": [0, 500], "nice": false, "zero": false}, "axis": null}, "detail": {"field": "c"}, "order": {"field": "k"}}},
    {"data": {"name": "curves"}, "transform": [{"window": [{"op": "row_number", "as": "k"}]}, {"filter": "datum.p === 'TR' && datum.g === 'F'"}], "mark": {"type": "line", "strokeWidth": 3.5, "color": "#000"},
     "encoding": {"x": {"field": "x", "type": "quantitative", "scale": {"domain": [0, 3], "nice": false, "zero": false}, "axis": null}, "y": {"field": "y", "type": "quantitative", "scale": {"domain": [0, 500], "nice": false, "zero": false}, "axis": null}, "detail": {"field": "c"}, "order": {"field": "k"}}},
    {"data": {"name": "curves"}, "transform": [{"filter": "datum.p === 'TR' && datum.g !== 'F'"}], "mark": {"type": "point", "filled": false, "size": 55, "strokeWidth": 1.2, "color": "#111"},
     "encoding": {"x": {"field": "x", "type": "quantitative", "scale": {"domain": [0, 3], "nice": false, "zero": false}, "axis": null}, "y": {"field": "y", "type": "quantitative", "scale": {"domain": [0, 500], "nice": false, "zero": false}, "axis": null},
      "shape": {"field": "g", "type": "nominal", "scale": {"domain": ["A","B","C","D","E"], "range": ["M-1,-1L1,1M-1,1L1,-1", "M-1,0L1,0M0,-1L0,1M-0.7,-0.7L0.7,0.7M-0.7,0.7L0.7,-0.7", "square", "circle", "triangle-up"]}, "legend": null}}},
    {"data": {"name": "braces"}, "transform": [{"window": [{"op": "row_number", "as": "k"}]}, {"filter": "datum.p === 'TR'"}], "mark": {"type": "line", "interpolate": "basis", "strokeWidth": 3, "color": "#000"},
     "encoding": {"x": {"field": "x", "type": "quantitative", "scale": {"domain": [0, 3], "nice": false, "zero": false}, "axis": null}, "y": {"field": "y", "type": "quantitative", "scale": {"domain": [0, 500], "nice": false, "zero": false}, "axis": null}, "detail": {"field": "b"}, "order": {"field": "k"}}},
    {"data": {"name": "labels"}, "transform": [{"filter": "datum.p === 'TR'"}], "mark": {"type": "text", "font": "Liberation Serif", "fontSize": 26, "align": "center", "baseline": "middle", "color": "#000"},
     "encoding": {"x": {"field": "x", "type": "quantitative", "scale": {"domain": [0, 3], "nice": false, "zero": false}, "axis": {"orient": "top", "values": [0, 1, 2, 3], "labels": false, "tickSize": -6, "title": null}}, "y": {"field": "y", "type": "quantitative", "scale": {"domain": [0, 500], "nice": false, "zero": false}, "axis": null}, "text": {"field": "t"}}}
   ]
  }
 ]
},
{
 "bounds": "flush",
 "spacing": 50,
 "hconcat": [
  {
   "width": 270, "height": 739,
   "resolve": {"axis": {"x": "independent", "y": "independent"}},
   "layer": [
    {"data": {"name": "boxes"}, "transform": [{"filter": "datum.p === 'BL'"}], "mark": {"type": "rect", "color": "white"},
     "encoding": {
      "x": {"field": "x", "type": "quantitative", "scale": {"domain": [0, 3], "nice": false, "zero": false}, "axis": {"values": [0, 1, 2, 3], "format": ".1f", "tickSize": -6, "labelPadding": 15, "labelFont": "Liberation Serif", "titleFont": "Liberation Serif", "title": "Axial Strain (%)", "titlePadding": 8}},
      "x2": {"field": "x2"},
      "y": {"field": "y", "type": "quantitative", "scale": {"domain": [0, 500], "nice": false, "zero": false}, "axis": {"values": [0,50,100,150,200,250,300,400,450,500], "labelPadding": 12, "labelFont": "Liberation Serif", "titleFont": "Liberation Serif", "title": "Axial Stress (psi)", "titlePadding": 14}},
      "y2": {"field": "y2"}}},
    {"data": {"name": "curves"}, "transform": [{"window": [{"op": "row_number", "as": "k"}]}, {"filter": "datum.p === 'BL' && datum.g !== 'F'"}], "mark": {"type": "line", "strokeWidth": 8.5, "color": "#1c1c1c", "strokeDash": [2.6, 1.2]},
     "encoding": {"x": {"field": "x", "type": "quantitative", "scale": {"domain": [0, 3], "nice": false, "zero": false}, "axis": null}, "y": {"field": "y", "type": "quantitative", "scale": {"domain": [0, 500], "nice": false, "zero": false}, "axis": null}, "detail": {"field": "c"}, "order": {"field": "k"}}},
    {"data": {"name": "curves"}, "transform": [{"window": [{"op": "row_number", "as": "k"}]}, {"filter": "datum.p === 'BL' && datum.g === 'F'"}], "mark": {"type": "line", "strokeWidth": 3.5, "color": "#000"},
     "encoding": {"x": {"field": "x", "type": "quantitative", "scale": {"domain": [0, 3], "nice": false, "zero": false}, "axis": null}, "y": {"field": "y", "type": "quantitative", "scale": {"domain": [0, 500], "nice": false, "zero": false}, "axis": null}, "detail": {"field": "c"}, "order": {"field": "k"}}},
    {"data": {"name": "curves"}, "transform": [{"filter": "datum.p === 'BL' && datum.g !== 'F'"}], "mark": {"type": "point", "filled": false, "size": 55, "strokeWidth": 1.2, "color": "#111"},
     "encoding": {"x": {"field": "x", "type": "quantitative", "scale": {"domain": [0, 3], "nice": false, "zero": false}, "axis": null}, "y": {"field": "y", "type": "quantitative", "scale": {"domain": [0, 500], "nice": false, "zero": false}, "axis": null},
      "shape": {"field": "g", "type": "nominal", "scale": {"domain": ["A","B","C","D","E"], "range": ["M-1,-1L1,1M-1,1L1,-1", "M-1,0L1,0M0,-1L0,1M-0.7,-0.7L0.7,0.7M-0.7,0.7L0.7,-0.7", "square", "circle", "triangle-up"]}, "legend": null}}},
    {"data": {"name": "braces"}, "transform": [{"window": [{"op": "row_number", "as": "k"}]}, {"filter": "datum.p === 'BL'"}], "mark": {"type": "line", "interpolate": "basis", "strokeWidth": 3, "color": "#000"},
     "encoding": {"x": {"field": "x", "type": "quantitative", "scale": {"domain": [0, 3], "nice": false, "zero": false}, "axis": null}, "y": {"field": "y", "type": "quantitative", "scale": {"domain": [0, 500], "nice": false, "zero": false}, "axis": null}, "detail": {"field": "b"}, "order": {"field": "k"}}},
    {"data": {"name": "labels"}, "transform": [{"filter": "datum.p === 'BL'"}], "mark": {"type": "text", "font": "Liberation Serif", "fontSize": 26, "align": "center", "baseline": "middle", "color": "#000"},
     "encoding": {"x": {"field": "x", "type": "quantitative", "scale": {"domain": [0, 3], "nice": false, "zero": false}, "axis": {"orient": "top", "values": [0, 1, 2, 3], "labels": false, "tickSize": -6, "title": null}}, "y": {"field": "y", "type": "quantitative", "scale": {"domain": [0, 500], "nice": false, "zero": false}, "axis": null}, "text": {"field": "t"}}}
   ]
  },
  {
   "width": 270, "height": 739,
   "resolve": {"axis": {"x": "independent", "y": "independent"}},
   "layer": [
    {"data": {"name": "boxes"}, "transform": [{"filter": "datum.p === 'BR'"}], "mark": {"type": "rect", "color": "white"},
     "encoding": {
      "x": {"field": "x", "type": "quantitative", "scale": {"domain": [0, 3], "nice": false, "zero": false}, "axis": {"values": [0, 1, 2, 3], "format": ".1f", "tickSize": -6, "labelPadding": 15, "labelFont": "Liberation Serif", "titleFont": "Liberation Serif", "title": "Axial Strain (%)", "titlePadding": 8}},
      "x2": {"field": "x2"},
      "y": {"field": "y", "type": "quantitative", "scale": {"domain": [0, 500], "nice": false, "zero": false}, "axis": {"values": [0,50,100,150,200,250,300,350,400,450,500], "labels": false, "title": null}},
      "y2": {"field": "y2"}}},
    {"data": {"name": "curves"}, "transform": [{"window": [{"op": "row_number", "as": "k"}]}, {"filter": "datum.p === 'BR' && datum.g !== 'F'"}], "mark": {"type": "line", "strokeWidth": 8.5, "color": "#1c1c1c", "strokeDash": [2.6, 1.2]},
     "encoding": {"x": {"field": "x", "type": "quantitative", "scale": {"domain": [0, 3], "nice": false, "zero": false}, "axis": null}, "y": {"field": "y", "type": "quantitative", "scale": {"domain": [0, 500], "nice": false, "zero": false}, "axis": null}, "detail": {"field": "c"}, "order": {"field": "k"}}},
    {"data": {"name": "curves"}, "transform": [{"window": [{"op": "row_number", "as": "k"}]}, {"filter": "datum.p === 'BR' && datum.g === 'F'"}], "mark": {"type": "line", "strokeWidth": 3.5, "color": "#000"},
     "encoding": {"x": {"field": "x", "type": "quantitative", "scale": {"domain": [0, 3], "nice": false, "zero": false}, "axis": null}, "y": {"field": "y", "type": "quantitative", "scale": {"domain": [0, 500], "nice": false, "zero": false}, "axis": null}, "detail": {"field": "c"}, "order": {"field": "k"}}},
    {"data": {"name": "curves"}, "transform": [{"filter": "datum.p === 'BR' && datum.g !== 'F'"}], "mark": {"type": "point", "filled": false, "size": 55, "strokeWidth": 1.2, "color": "#111"},
     "encoding": {"x": {"field": "x", "type": "quantitative", "scale": {"domain": [0, 3], "nice": false, "zero": false}, "axis": null}, "y": {"field": "y", "type": "quantitative", "scale": {"domain": [0, 500], "nice": false, "zero": false}, "axis": null},
      "shape": {"field": "g", "type": "nominal", "scale": {"domain": ["A","B","C","D","E"], "range": ["M-1,-1L1,1M-1,1L1,-1", "M-1,0L1,0M0,-1L0,1M-0.7,-0.7L0.7,0.7M-0.7,0.7L0.7,-0.7", "square", "circle", "triangle-up"]}, "legend": null}}},
    {"data": {"name": "braces"}, "transform": [{"window": [{"op": "row_number", "as": "k"}]}, {"filter": "datum.p === 'BR'"}], "mark": {"type": "line", "interpolate": "basis", "strokeWidth": 3, "color": "#000"},
     "encoding": {"x": {"field": "x", "type": "quantitative", "scale": {"domain": [0, 3], "nice": false, "zero": false}, "axis": null}, "y": {"field": "y", "type": "quantitative", "scale": {"domain": [0, 500], "nice": false, "zero": false}, "axis": null}, "detail": {"field": "b"}, "order": {"field": "k"}}},
    {"data": {"name": "labels"}, "transform": [{"filter": "datum.p === 'BR'"}], "mark": {"type": "text", "font": "Liberation Serif", "fontSize": 26, "align": "center", "baseline": "middle", "color": "#000"},
     "encoding": {"x": {"field": "x", "type": "quantitative", "scale": {"domain": [0, 3], "nice": false, "zero": false}, "axis": {"orient": "top", "values": [0, 1, 2, 3], "labels": false, "tickSize": -6, "title": null}}, "y": {"field": "y", "type": "quantitative", "scale": {"domain": [0, 500], "nice": false, "zero": false}, "axis": null}, "text": {"field": "t"}}}
   ]
  }
 ]
}
]
}
